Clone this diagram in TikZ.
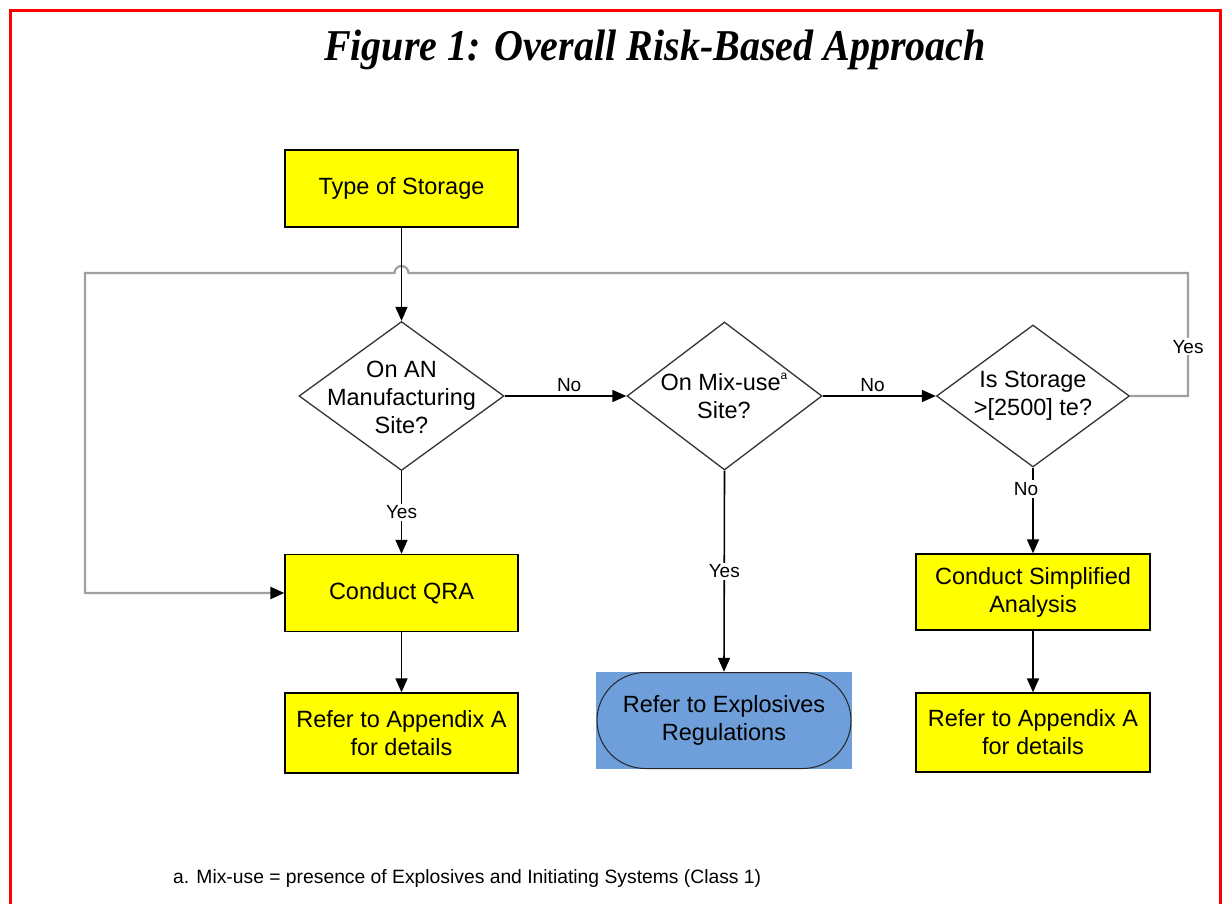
\documentclass[tikz,border=0pt]{standalone}
\usepackage{fontspec}
\setmainfont{Liberation Sans}
\newfontfamily\titlefont{Liberation Serif}
\usepackage{graphicx}
\usetikzlibrary{shapes.geometric,shapes.misc,arrows.meta}
\definecolor{ybox}{RGB}{255,255,0}
\definecolor{bluebox}{RGB}{111,159,218}
\definecolor{loopgray}{RGB}{160,160,160}
\begin{document}
\begin{tikzpicture}[x=1pt,y=-1pt,
 yellowbox/.style={draw=black, line width=1.3pt, fill=ybox, minimum width=233pt, minimum height=77pt, align=center, font=\fontsize{23.5}{28}\selectfont, inner sep=0pt},
 dia/.style={diamond, draw=black!80, line width=1.3pt, inner sep=0pt},
 diatext/.style={align=center, font=\fontsize{23.5}{28}\selectfont, inner sep=0pt},
 lbl/.style={font=\fontsize{19}{22}\selectfont, inner sep=1pt},
 onlbl/.style={lbl, fill=white, inner sep=2pt},
 conn/.style={draw=black, line width=1.6pt, -{Triangle[length=14pt,width=12pt]}},
 loopline/.style={draw=loopgray, line width=2.2pt, -{Triangle[length=14pt,width=12pt,color=black]}}
]
\useasboundingbox (0,0) rectangle (1223,903);
% frame
\draw[red, line width=3pt] (10,920) -- (10,10.5) -- (1220.5,10.5) -- (1220.5,920);
% title
\node (title) at (655,50) {\titlefont\bfseries\itshape\fontsize{44}{44}\selectfont\scalebox{0.91}[1]{Figure 1: Overall Risk-Based Approach}};
% nodes
\node[yellowbox] (type) at (401.5,188.5) {Type of Storage};
\node[dia, minimum width=205pt, minimum height=149pt] (d1) at (401.5,396) {};
\node[diatext] (d1t) at (401.5,397) {On AN\\Manufacturing\\Site?};
\node[dia, minimum width=195pt, minimum height=148pt] (d2) at (724.5,396) {};
\node[diatext] (d2t) at (724,396) {On Mix-use\raisebox{0.45em}{\fontsize{12}{12}\selectfont a}\\Site?};
\node[dia, minimum width=193pt, minimum height=142pt] (d3) at (1033,396) {};
\node[diatext] (d3t) at (1033,396) {Is Storage\\>[2500] te?};
\node[yellowbox] (qra) at (401.5,593) {Conduct QRA};
\node[yellowbox, minimum height=80pt] (appA) at (401.5,733) {Refer to Appendix A\\for details};
\node[yellowbox, minimum width=234pt, minimum height=76pt] (simp) at (1033,592) {Conduct Simplified\\Analysis};
\node[yellowbox, minimum width=234pt, minimum height=79pt] (appB) at (1033,732.5) {Refer to Appendix A\\for details};
\node[fill=bluebox, minimum width=256pt, minimum height=97pt, inner sep=0pt] (explbg) at (724,720.5) {};
\node[rounded rectangle, draw=black!85, line width=1pt, minimum width=254pt, minimum height=96pt, inner sep=0pt, align=center, font=\fontsize{23.5}{28}\selectfont] (expl) at (724,720.5) {Refer to Explosives\\Regulations};
% footnote
\node[anchor=west, inner sep=0pt, font=\fontsize{19.3}{22}\selectfont] (foot) at (173,878) {a. Mix-use = presence of Explosives and Initiating Systems (Class 1)};
% coordinates for loop
\coordinate (rb) at (1188,396);
\coordinate (rt) at (1188,273);
\coordinate (hopr) at (408.5,273);
\coordinate (lt) at (85,273);
\coordinate (lb) at (85,593);
% connectors
\draw[loopline] (d3.east) -- (rb) -- node[onlbl, pos=0.4] {Yes} (rt) -- (hopr) arc[start angle=0, end angle=180, radius=7pt] -- (lt) -- (lb) -- (qra.west);
\draw[conn] (type.south) -- (d1.north);
\draw[conn] (d1.east) -- node[lbl, above=3pt, pos=0.53] {No} (d2.west);
\draw[conn] (d2.east) -- node[lbl, above=3pt, pos=0.44] {No} (d3.west);
\draw[conn] (d1.south) -- node[onlbl] {Yes} (qra.north);
\draw[conn] (d2.south) -- node[onlbl] {Yes} (explbg.north);
\draw[conn] (d3.south) -- node[onlbl, pos=0.25, xshift=-7pt] {No} (simp.north);
\draw[conn] (qra.south) -- (appA.north);
\draw[conn] (simp.south) -- (appB.north);
\end{tikzpicture}
\end{document}
